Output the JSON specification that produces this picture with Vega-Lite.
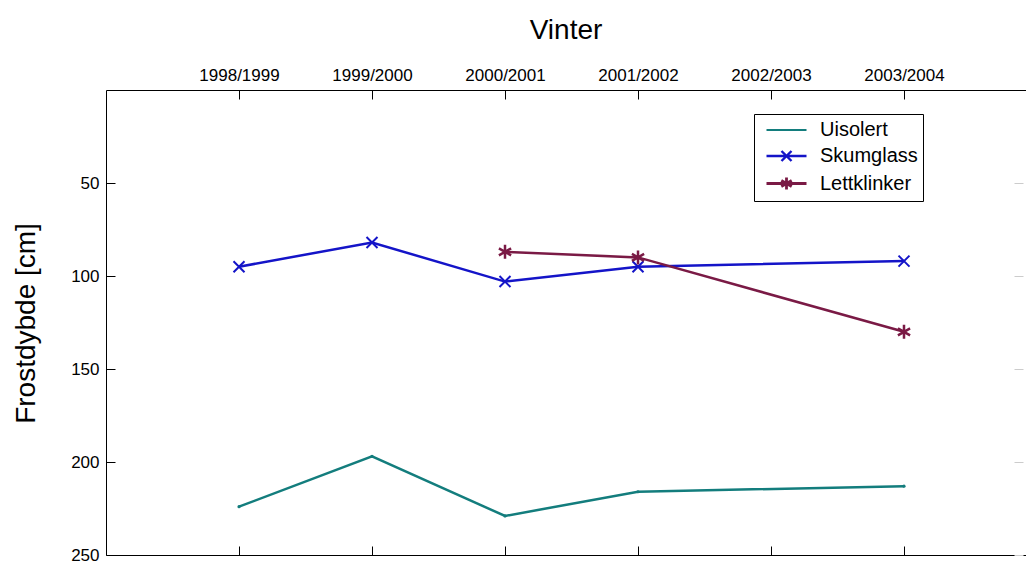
{
  "$schema": "https://vega.github.io/schema/vega-lite/v6.json",
  "width": 920,
  "height": 465,
  "autosize": {"type": "none"},
  "padding": {"left": 106, "top": 90, "right": 0, "bottom": 8},
  "background": "white",
  "view": {"stroke": "transparent"},
  "title": {"text": "Vinter", "fontSize": 28, "font": "Liberation Sans", "fontWeight": "normal", "color": "black", "offset": 21, "anchor": "middle"},
  "config": {
    "view": {"stroke": "transparent"},
    "font": "Liberation Sans",
    "axis": {"grid": false, "domainColor": "black", "tickColor": "black", "labelColor": "black", "titleColor": "black", "labelFont": "Liberation Sans", "titleFont": "Liberation Sans", "labelFontSize": 17, "domainWidth": 1, "tickWidth": 1}
  },
  "data": {
    "values": [
      {"vinter": "1998/1999", "serie": "Uisolert", "frost": 224},
      {"vinter": "1999/2000", "serie": "Uisolert", "frost": 197},
      {"vinter": "2000/2001", "serie": "Uisolert", "frost": 229},
      {"vinter": "2001/2002", "serie": "Uisolert", "frost": 216},
      {"vinter": "2003/2004", "serie": "Uisolert", "frost": 213},
      {"vinter": "1998/1999", "serie": "Skumglass", "frost": 95},
      {"vinter": "1999/2000", "serie": "Skumglass", "frost": 82},
      {"vinter": "2000/2001", "serie": "Skumglass", "frost": 103},
      {"vinter": "2001/2002", "serie": "Skumglass", "frost": 95},
      {"vinter": "2003/2004", "serie": "Skumglass", "frost": 92},
      {"vinter": "2000/2001", "serie": "Lettklinker", "frost": 87},
      {"vinter": "2001/2002", "serie": "Lettklinker", "frost": 90},
      {"vinter": "2003/2004", "serie": "Lettklinker", "frost": 130}
    ]
  },
  "layer": [
    {
      "encoding": {
        "x": {"field": "vinter", "type": "ordinal", "scale": {"type": "point", "domain": ["1998/1999", "1999/2000", "2000/2001", "2001/2002", "2002/2003", "2003/2004"], "padding": 0.9587, "align": 0.5216}, "axis": {"orient": "top", "title": null, "tickSize": -9, "labelPadding": 15, "labelAngle": 0}},
        "y": {"field": "frost", "type": "quantitative", "scale": {"domain": [0, 250], "reverse": true, "nice": false, "zero": false}, "axis": {"orient": "left", "values": [50, 100, 150, 200, 250], "tickSize": -9, "labelPadding": 16, "title": "Frostdybde [cm]", "titleFontSize": 28, "titleFontWeight": "normal", "titleX": -66, "titleY": 233}},
        "color": {"field": "serie", "type": "nominal", "scale": {"domain": ["Uisolert", "Skumglass", "Lettklinker"], "range": ["#137d7d", "#1414c8", "#7a1a45"]}}
      },
      "layer": [
        {
          "mark": {"type": "line", "strokeWidth": 2.5},
          "encoding": {
            "strokeWidth": {"field": "serie", "type": "nominal", "scale": {"domain": ["Uisolert", "Skumglass", "Lettklinker"], "range": [2, 2.8, 2.8]}, "legend": null},
            "color": {"field": "serie", "type": "nominal", "scale": {"domain": ["Uisolert", "Skumglass", "Lettklinker"], "range": ["#137d7d", "#1414c8", "#7a1a45"]},
              "legend": {"orient": "none", "legendX": 648, "legendY": 24, "title": null, "padding": 5, "rowPadding": 4.5, "symbolOffset": 6, "symbolSize": 400, "symbolStrokeWidth": 2, "labelFontSize": 20, "labelFont": "Liberation Sans", "labelOffset": 32, "labelColor": "black", "strokeColor": "black", "fillColor": "white", "cornerRadius": 0,
                "encode": {"symbols": {"update": {"shape": {"signal": "datum.value === 'Skumglass' ? 'M-1,0L3,0M0.5,-0.5L1.5,0.5M0.5,0.5L1.5,-0.5' : datum.value === 'Lettklinker' ? 'M-1,0L3,0M1,-0.6L1,0.6M0.48,-0.3L1.52,0.3M0.48,0.3L1.52,-0.3' : 'M-1,0L3,0M0.9,0L1.1,0'"}, "fill": {"value": "transparent"}, "strokeWidth": {"value": 2}}}}}}
          }
        },
        {
          "transform": [{"filter": "datum.serie === 'Skumglass'"}],
          "mark": {"type": "point", "shape": "M-1,-1L1,1M-1,1L1,-1", "filled": false, "size": 121, "strokeWidth": 2, "opacity": 1}
        },
        {
          "transform": [{"filter": "datum.serie === 'Lettklinker'"}],
          "mark": {"type": "point", "shape": "M0,-1L0,1M-0.87,-0.5L0.87,0.5M-0.87,0.5L0.87,-0.5", "filled": false, "size": 196, "strokeWidth": 2.5, "opacity": 1}
        },
        {
          "transform": [{"filter": "datum.serie === 'Uisolert'"}],
          "mark": {"type": "circle", "size": 10, "opacity": 1}
        }
      ]
    },
    {
      "mark": {"type": "point", "opacity": 0},
      "encoding": {
        "x": {"field": "vinter", "type": "ordinal", "scale": {"type": "point", "domain": ["1998/1999", "1999/2000", "2000/2001", "2001/2002", "2002/2003", "2003/2004"], "padding": 0.9587, "align": 0.5216}, "axis": {"orient": "bottom", "title": null, "tickSize": -9, "labels": false}},
        "y": {"field": "frost", "type": "quantitative", "scale": {"domain": [0, 250], "reverse": true, "nice": false, "zero": false}, "axis": {"orient": "right", "values": [50, 100, 150, 200, 250], "tickSize": -9, "labels": false, "domain": false, "title": null, "tickColor": "#cccccc", "offset": -3}}
      }
    }
  ],
  "resolve": {"scale": {"x": "independent", "y": "independent"}}
}
